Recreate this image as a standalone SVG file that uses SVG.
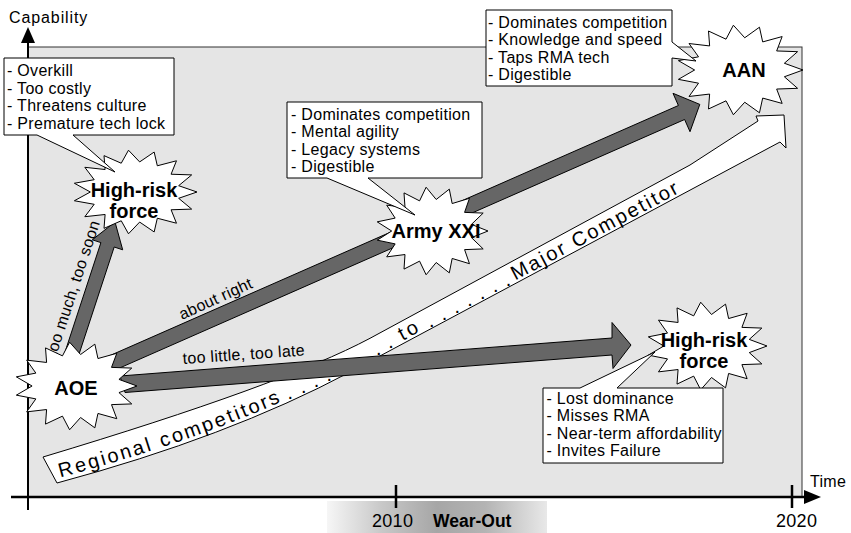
<svg xmlns="http://www.w3.org/2000/svg" width="851" height="533" viewBox="0 0 851 533">
<style>
.lbl{font-family:"Liberation Sans",Arial,sans-serif;font-size:16px;letter-spacing:0.3px;fill:#000}
.burstt{font-family:"Liberation Sans",Arial,sans-serif;font-size:20px;font-weight:bold;fill:#000;text-anchor:middle}
.band{font-family:"Liberation Sans",Arial,sans-serif;font-size:20px;fill:#000}
.box{fill:#fff;stroke:#000;stroke-width:1}
.arw{fill:#666;stroke:#000;stroke-width:1}
.bst{fill:#fff;stroke:#000;stroke-width:1;vector-effect:non-scaling-stroke}
.axis{stroke:#000;fill:none}
</style>
<defs>
<polygon id="burst" class="bst" points="100,0 70.4,15 91.4,40.7 58.2,42.3 66.9,74.3 36,62.4 30.9,95.1 7.5,71.6 -10.5,99.5 -22.2,68.5 -50,86.6 -48.2,53.5 -80.9,58.8 -65.8,29.3 -97.8,20.8 -72,0 -97.8,-20.8 -65.8,-29.3 -80.9,-58.8 -48.2,-53.5 -50,-86.6 -22.2,-68.5 -10.5,-99.5 7.5,-71.6 30.9,-95.1 36,-62.4 66.9,-74.3 58.2,-42.3 91.4,-40.7 70.4,-15"/>
<linearGradient id="wear" x1="0" y1="0" x2="1" y2="0">
<stop offset="0" stop-color="#f6f6f6"/>
<stop offset="0.25" stop-color="#c8c8c8"/>
<stop offset="0.5" stop-color="#a6a6a6"/>
<stop offset="0.72" stop-color="#b4b4b4"/>
<stop offset="1" stop-color="#e8e8e8"/>
</linearGradient>
</defs>

<g id="panel">
<rect x="28" y="47" width="774" height="450" fill="#e5e5e5" stroke="#333" stroke-width="1"/>
<rect x="327" y="501" width="220" height="32" fill="url(#wear)"/>
</g>

<g id="axes">
<line class="axis" x1="28" y1="510" x2="28" y2="40" stroke-width="2"/>
<polygon points="21,43 28,27 35,43" fill="#000"/>
<line class="axis" x1="11" y1="497" x2="806" y2="497" stroke-width="2.5"/>
<polygon points="804,490 821,497 804,504" fill="#000"/>
<line class="axis" x1="396" y1="485" x2="396" y2="508" stroke-width="2.5"/>
<line class="axis" x1="792" y1="485" x2="792" y2="508" stroke-width="2.5"/>
<text class="lbl" x="9" y="23" style="letter-spacing:0.9px">Capability</text>
<text class="lbl" x="810" y="487">Time</text>
<text class="lbl" x="372" y="527" style="font-size:18px">2010</text>
<text class="lbl" x="776" y="527" style="font-size:18px">2020</text>
<text class="lbl" x="433" y="527" style="font-size:17.5px;font-weight:bold;letter-spacing:0">Wear-Out</text>
</g>

<g id="competitor-band">
<path d="M43,457 Q281.5,385.4 370,338.3 L690,165 L758,121 L756,116 L784,115 L786,148 L780,142 L350,372 Q228,437 57,483 Z" fill="#fff" stroke="#000" stroke-width="1"/>
<text class="band" x="60.18 76.67 89.8 102.79 109.27 122.03 134.63 147.77" y="477.44 472.96 469.31 465.57 463.69 459.87 456 451.85" rotate="-15.1 -15.55 -15.96 -16.28 -16.6 -17.04 -17.48 -17.83">Regional</text>
<text class="band" x="162.11 173.92 186.58 204.25 216.91 229.75 237.27 243.67 251.05 263.47 271.64" y="447.18 443.23 438.9 432.59 427.92 423.03 420.11 417.58 414.63 409.5 406.06" rotate="-18.47 -18.94 -19.56 -20.2 -20.74 -21.19 -21.53 -21.84 -22.33 -22.84 -23.33">competitors</text>
<text class="band" x="287.6 300.9 313.8 326.4 338.8 351 363.5 375.9 388.3" y="399.2 393.1 387.1 380.9 374.7 368.3 361.7 355 348.4">.........</text>
<text class="band" x="402.5" y="340.9" transform="rotate(-28.15 402.5 340.9)" style="letter-spacing:3px">to</text>
<text class="band" x="429 441.8 454.6 467.3 480.1 492.9 505.7" y="326.6 319.8 312.9 306.1 299.3 292.4 285.6">.......</text>
<text class="band" x="515.3" y="280.6" transform="rotate(-28.15 515.3 280.6)" style="letter-spacing:2.2px">Major Competitor</text>
</g>

<g id="connectors">
<polygon class="arw" points="61.3,363.3 100.9,242.6 92.3,239.8 115,222 122.7,249.8 114.2,247 74.6,367.7"/>
<polygon class="arw" points="100.8,359.6 678.4,105.5 673,93.3 699.8,104.4 690,131.7 684.6,119.5 106.9,373.6"/>
<polygon class="arw" points="120,376 612,338 612,322.5 631,345 613,368.5 612,355 125,392.5"/>
<text class="lbl" x="56" y="357" transform="rotate(-71.8 56 357)">too much, too soon</text>
<text class="lbl" x="182" y="320" transform="rotate(-24.5 182 320)">about right</text>
<text class="lbl" x="183" y="364" transform="rotate(-4 183 364)">too little, too late</text>
</g>

<g id="aoe">
<use href="#burst" transform="translate(76,386) scale(0.61,0.44)"/>
<text class="burstt" x="76" y="395">AOE</text>
</g>

<g id="high-risk-top">
<use href="#burst" transform="translate(135,192) scale(0.62,0.42)"/>
<text class="burstt" x="134" y="197">High-risk</text>
<text class="burstt" x="134" y="218">force</text>
</g>

<g id="army-xxi">
<use href="#burst" transform="translate(432,231) scale(0.56,0.44)"/>
<text class="burstt" x="436" y="238">Army XXI</text>
</g>

<g id="aan">
<use href="#burst" transform="translate(740,70) scale(0.63,0.45)"/>
<text class="burstt" x="744" y="77">AAN</text>
</g>

<g id="high-risk-bottom">
<use href="#burst" transform="translate(707,346) scale(0.60,0.44)"/>
<text class="burstt" x="704" y="347">High-risk</text>
<text class="burstt" x="704" y="368">force</text>
</g>

<g id="callout-overkill">
<path class="box" d="M4,58 H174 V135 H73 L115,172 L37,135 H4 Z"/>
<text class="lbl" x="7" y="76">- Overkill</text>
<text class="lbl" x="7" y="93.5">- Too costly</text>
<text class="lbl" x="7" y="111">- Threatens culture</text>
<text class="lbl" x="7" y="128.5">- Premature tech lock</text>
</g>

<g id="callout-army">
<path class="box" d="M287,102 H482 V178 H368 L415,215 L327,178 H287 Z"/>
<text class="lbl" x="291" y="119.5">- Dominates competition</text>
<text class="lbl" x="291" y="137">- Mental agility</text>
<text class="lbl" x="291" y="154.5">- Legacy systems</text>
<text class="lbl" x="291" y="172">- Digestible</text>
</g>

<g id="callout-aan">
<path class="box" d="M486,10 H672 V42 L696,61 L672,58 V86 H486 Z"/>
<text class="lbl" x="488" y="27.5">- Dominates competition</text>
<text class="lbl" x="488" y="45">- Knowledge and speed</text>
<text class="lbl" x="488" y="62.5">- Taps RMA tech</text>
<text class="lbl" x="488" y="80">- Digestible</text>
</g>

<g id="callout-lost">
<path class="box" d="M543,388 H580 L655,352 L617,388 H723 V463 H543 Z"/>
<text class="lbl" x="546.5" y="403.5">- Lost dominance</text>
<text class="lbl" x="546.5" y="421">- Misses RMA</text>
<text class="lbl" x="546.5" y="438.5">- Near-term affordability</text>
<text class="lbl" x="546.5" y="456">- Invites Failure</text>
</g>
</svg>
